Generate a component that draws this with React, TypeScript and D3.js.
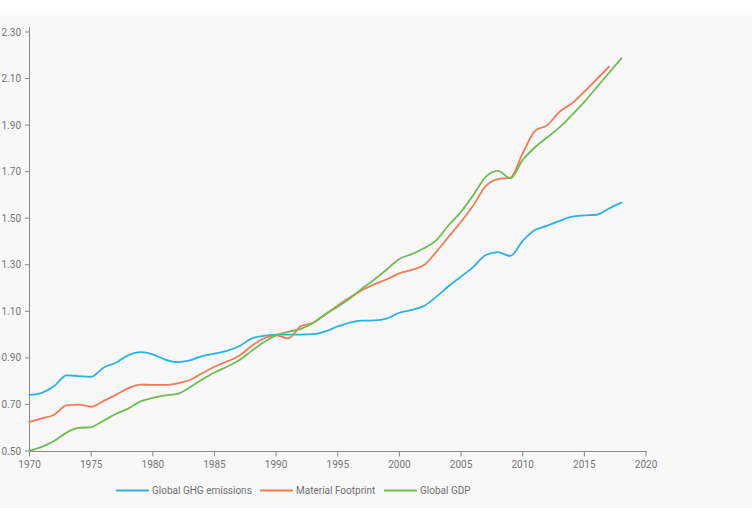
import React from "react";
import * as d3 from "d3";

const years: number[] = d3.range(1970, 2019);

const ghgEmissions: number[] = [
  0.741, 0.750, 0.779, 0.825, 0.822, 0.819, 0.858, 0.879, 0.911, 0.925,
  0.915, 0.893, 0.882, 0.889, 0.908, 0.918, 0.930, 0.950, 0.983, 0.995,
  1.000, 1.000, 1.000, 1.002, 1.014, 1.035, 1.052, 1.060, 1.061, 1.070,
  1.094, 1.106, 1.123, 1.163, 1.209, 1.249, 1.291, 1.342, 1.354, 1.338,
  1.403, 1.449, 1.468, 1.489, 1.507, 1.512, 1.515, 1.542, 1.567,
];

const materialFootprint: number[] = [
  0.625, 0.640, 0.656, 0.696, 0.699, 0.690, 0.715, 0.741, 0.769, 0.785,
  0.784, 0.784, 0.791, 0.805, 0.834, 0.862, 0.884, 0.909, 0.951, 0.984,
  0.997, 0.984, 1.036, 1.051, 1.086, 1.125, 1.160, 1.192, 1.217, 1.238,
  1.263, 1.278, 1.299, 1.356, 1.421, 1.485, 1.556, 1.638, 1.668, 1.674,
  1.779, 1.875, 1.900, 1.958, 1.994, 2.044, 2.097, 2.151,
];

const globalGDP: number[] = [
  0.501, 0.518, 0.543, 0.579, 0.599, 0.603, 0.630, 0.659, 0.682, 0.713,
  0.728, 0.739, 0.745, 0.774, 0.807, 0.837, 0.862, 0.890, 0.929, 0.967,
  0.997, 1.012, 1.025, 1.050, 1.088, 1.120, 1.156, 1.199, 1.238, 1.281,
  1.325, 1.346, 1.371, 1.406, 1.471, 1.528, 1.600, 1.678, 1.703, 1.671,
  1.750, 1.805, 1.848, 1.891, 1.944, 2.000, 2.062, 2.125, 2.187,
];

const seriesNames: string[] = ["Global GHG emissions", "Material Footprint", "Global GDP"];
const seriesColors: string[] = ["#2cb1e6", "#f27a57", "#6dbd4f"];
const yTicks: number[] = [0.5, 0.7, 0.9, 1.1, 1.3, 1.5, 1.7, 1.9, 2.1, 2.3];
const xTicks: number[] = [1970, 1975, 1980, 1985, 1990, 1995, 2000, 2005, 2010, 2015, 2020];

const W = 752;
const H = 508;
const FONT = "Roboto, 'Noto Sans', sans-serif";

export default function App() {
  const x = d3.scaleLinear().domain([1970, 2020]).range([29.5, 646]);
  const y = d3.scaleLinear().domain([0.5, 2.3]).range([451, 32]);
  const line = d3
    .line<number>()
    .x((_, i) => x(years[i]))
    .y((d) => y(d))
    .curve(d3.curveMonotoneX);

  const allSeries = [ghgEmissions, materialFootprint, globalGDP];
  const legendX = [116, 260, 384];
  const legendY = 490.5;

  return (
    <svg
      width={W}
      height={H}
      style={{ position: "absolute", left: 0, top: 0, display: "block" }}
      fontFamily={FONT}
    >
      <defs>
        <linearGradient id="topshade" x1="0" y1="0" x2="0" y2="1">
          <stop offset="0" stopColor="#ffffff" />
          <stop offset="1" stopColor="#f8f8f8" />
        </linearGradient>
      </defs>
      <rect x={0} y={0} width={W} height={H} fill="#ffffff" />
      <rect x={0} y={12} width={W} height={6} fill="url(#topshade)" />
      <rect x={0} y={18} width={W} height={H - 18} fill="#f8f8f8" />

      {/* Y axis */}
      <line x1={29.5} x2={29.5} y1={27} y2={451} stroke="#8a8a8a" strokeWidth={1} />
      {yTicks.map((t) => (
        <g key={t} transform={`translate(0,${y(t)})`}>
          <line x1={25} x2={29.5} stroke="#8a8a8a" strokeWidth={1} />
          <text x={21} dy="0.35em" textAnchor="end" fontSize={10} fill="#757575">
            {t.toFixed(2)}
          </text>
        </g>
      ))}

      {/* X axis */}
      <line x1={29.5} x2={647} y1={451.5} y2={451.5} stroke="#8a8a8a" strokeWidth={1} />
      {xTicks.map((t) => (
        <g key={t} transform={`translate(${x(t)},451.5)`}>
          <line y1={0} y2={5} stroke="#8a8a8a" strokeWidth={1} />
          <text y={16} textAnchor="middle" fontSize={10} fill="#757575">
            {t}
          </text>
        </g>
      ))}

      {/* Lines */}
      {allSeries.map((s, i) => (
        <path
          key={seriesNames[i]}
          d={line(s) || ""}
          fill="none"
          stroke={seriesColors[i]}
          strokeWidth={1.8}
          strokeLinejoin="round"
          strokeLinecap="round"
        />
      ))}

      {/* Legend */}
      {seriesNames.map((n, i) => (
        <g key={n}>
          <line
            x1={legendX[i]}
            x2={legendX[i] + 33}
            y1={legendY}
            y2={legendY}
            stroke={seriesColors[i]}
            strokeWidth={2}
          />
          <text x={legendX[i] + 36} y={legendY} dy="0.35em" fontSize={10} fill="#707070">
            {n}
          </text>
        </g>
      ))}
    </svg>
  );
}
